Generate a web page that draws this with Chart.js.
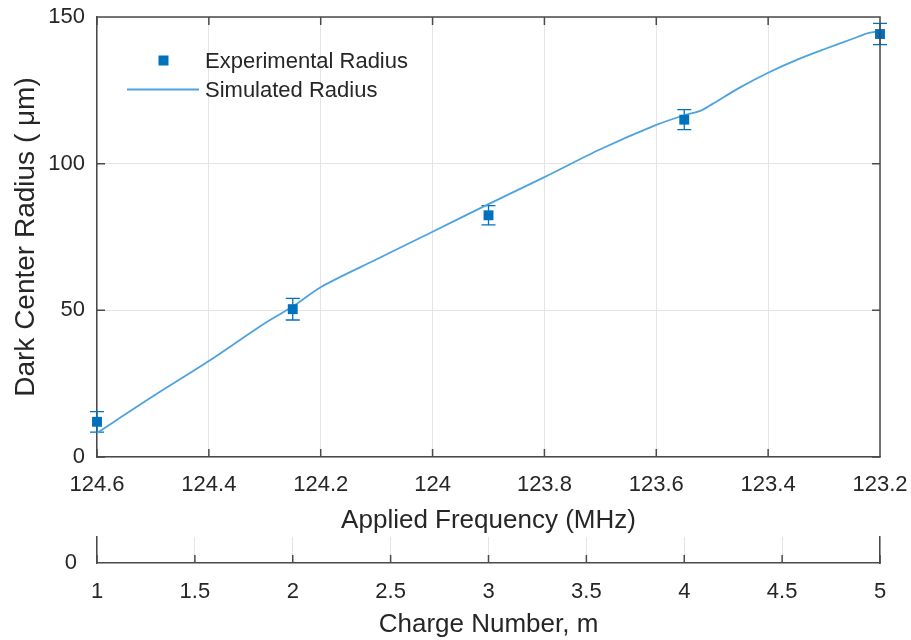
<!DOCTYPE html>
<html>
<head>
<meta charset="utf-8">
<title>Dark center radius vs applied frequency</title>
<script src="https://cdn.jsdelivr.net/npm/chart.js@4.4.1/dist/chart.umd.min.js"></script>
<style>
  html, body { margin: 0; padding: 0; background: #fff; }
  #wrap { position: relative; width: 911px; height: 640px; }
  #mainBox { position: absolute; left: 0; top: 0; width: 911px; height: 536px; }
  #chargeBox { position: absolute; left: 0; top: 536px; width: 911px; height: 104px; }
</style>
</head>
<body>
<div id="wrap">
  <div id="mainBox"><canvas id="radiusChart"></canvas></div>
  <div id="chargeBox"><canvas id="chargeAxis"></canvas></div>
</div>
<script>
// measured dark center radius (um) with error bars
const freqExp = [124.6, 124.25, 123.9, 123.55, 123.2];
const radiusExp = [12.0, 50.4, 82.4, 115.0, 144.2];
const radiusErr = [3.5, 3.7, 3.3, 3.4, 3.6];

// simulated radius curve
const freqSim = [124.6, 124.5, 124.4, 124.3, 124.25, 124.2, 124.1, 124.0, 123.9, 123.8,
                 123.7, 123.6, 123.55, 123.52, 123.5, 123.45, 123.4, 123.35, 123.3, 123.25,
                 123.22, 123.2];
const radiusSim = [8.2, 20.7, 32.7, 45.6, 51.3, 57.9, 67.4, 76.8, 86.2, 95.4,
                   104.9, 113.2, 116.5, 118.1, 120.3, 126.0, 131.0, 135.3, 139.0, 142.5,
                   144.6, 145.2];

// tick positions
const freqTicks = [124.6, 124.4, 124.2, 124.0, 123.8, 123.6, 123.4, 123.2];
const radiusTicks = [0, 50, 100, 150];
const chargeTicks = [1, 1.5, 2, 2.5, 3, 3.5, 4, 4.5, 5];

const expColor = '#0072BD';
const simColor = '#4DA3DF';
const axisColor = '#4a4a4a';
const gridColor = '#e4e4e4';
const textColor = '#262626';

Chart.defaults.font.family = 'Arial, "Liberation Sans", sans-serif';
Chart.defaults.color = textColor;

const tickFont = { size: 22 };
const titleFont = { size: 26 };

// keep the plot edges where they are set, labels may hang over
function noEdgePadding(axis) {
  axis.paddingLeft = 0;
  axis.paddingRight = 0;
  axis.paddingTop = 0;
  axis.paddingBottom = 0;
}

// ticks pointing into the plot, plus top/right box edges
const boxTicks = {
  id: 'boxTicks',
  afterDraw(chart, args, opts) {
    const { ctx, chartArea: a, scales } = chart;
    const len = 8;
    ctx.save();
    ctx.strokeStyle = axisColor;
    ctx.lineWidth = 1.5;
    ctx.beginPath();
    if (opts.box) {
      ctx.moveTo(a.left, a.top);
      ctx.lineTo(a.right, a.top);
      ctx.lineTo(a.right, a.bottom);
    }
    scales.x.ticks.forEach(t => {
      const px = scales.x.getPixelForValue(t.value);
      ctx.moveTo(px, a.bottom);
      ctx.lineTo(px, a.bottom - len);
      if (opts.box) {
        ctx.moveTo(px, a.top);
        ctx.lineTo(px, a.top + len);
      }
    });
    if (opts.box) {
      scales.y.ticks.forEach(t => {
        const py = scales.y.getPixelForValue(t.value);
        ctx.moveTo(a.left, py);
        ctx.lineTo(a.left + len, py);
        ctx.moveTo(a.right, py);
        ctx.lineTo(a.right - len, py);
      });
    }
    ctx.stroke();
    ctx.restore();
  }
};

const errorBars = {
  id: 'errorBars',
  beforeDatasetsDraw(chart) {
    const { ctx, scales: { x, y } } = chart;
    const cap = 7;
    ctx.save();
    ctx.strokeStyle = expColor;
    ctx.lineWidth = 1.3;
    freqExp.forEach((f, i) => {
      const px = x.getPixelForValue(f);
      const top = y.getPixelForValue(radiusExp[i] + radiusErr[i]);
      const bot = y.getPixelForValue(radiusExp[i] - radiusErr[i]);
      ctx.beginPath();
      ctx.moveTo(px, top); ctx.lineTo(px, bot);
      ctx.moveTo(px - cap, top); ctx.lineTo(px + cap, top);
      ctx.moveTo(px - cap, bot); ctx.lineTo(px + cap, bot);
      ctx.stroke();
    });
    ctx.restore();
  }
};

// legend drawn inside the plot area, upper left
const insideLegend = {
  id: 'insideLegend',
  afterDraw(chart) {
    const ctx = chart.ctx;
    const labels = chart.data.datasets.map(d => d.label);
    ctx.save();
    ctx.fillStyle = expColor;
    ctx.fillRect(158.5, 55.5, 10, 10);
    ctx.strokeStyle = simColor;
    ctx.lineWidth = 1.8;
    ctx.beginPath();
    ctx.moveTo(127, 89.5);
    ctx.lineTo(199, 89.5);
    ctx.stroke();
    ctx.fillStyle = textColor;
    ctx.font = '22px Arial, "Liberation Sans", sans-serif';
    ctx.textBaseline = 'middle';
    ctx.fillText(labels[0], 205, 62);
    ctx.fillText(labels[1], 205, 91);
    ctx.restore();
  }
};

new Chart(document.getElementById('radiusChart'), {
  type: 'scatter',
  data: {
    datasets: [{
      label: 'Experimental Radius',
      data: freqExp.map((f, i) => ({ x: f, y: radiusExp[i] })),
      pointStyle: 'rect',
      pointRadius: 7,
      pointHoverRadius: 7,
      backgroundColor: expColor,
      borderColor: expColor,
      borderWidth: 0,
      clip: false
    }, {
      label: 'Simulated Radius',
      data: freqSim.map((f, i) => ({ x: f, y: radiusSim[i] })),
      showLine: true,
      pointRadius: 0,
      borderColor: simColor,
      borderWidth: 1.8,
      tension: 0.3
    }]
  },
  options: {
    responsive: true,
    maintainAspectRatio: false,
    animation: false,
    layout: { padding: { top: 17, right: 31, left: 0, bottom: 0 } },
    plugins: {
      legend: { display: false },
      tooltip: { enabled: false },
      boxTicks: { box: true }
    },
    scales: {
      x: {
        type: 'linear',
        reverse: true,
        min: 123.2,
        max: 124.6,
        afterBuildTicks: axis => { axis.ticks = freqTicks.map(v => ({ value: v })); },
        afterFit: axis => { axis.height = 79; noEdgePadding(axis); },
        ticks: {
          font: tickFont,
          padding: 15,
          maxRotation: 0,
          autoSkip: false,
          callback: v => String(Number(v.toFixed(1)))
        },
        grid: { color: gridColor, drawTicks: false },
        border: { color: axisColor, width: 1.5 },
        title: { display: true, text: 'Applied Frequency (MHz)', font: titleFont, padding: { top: 0, bottom: 0 } }
      },
      y: {
        min: 0,
        max: 150,
        afterBuildTicks: axis => { axis.ticks = radiusTicks.map(v => ({ value: v })); },
        afterFit: axis => { axis.width = 97; noEdgePadding(axis); },
        ticks: { font: tickFont, padding: 12 },
        grid: { color: gridColor, drawTicks: false },
        border: { color: axisColor, width: 1.5 },
        title: { display: true, text: 'Dark Center Radius ( \u03bcm)', font: { size: 28 }, padding: { top: 9, bottom: 0 } }
      }
    }
  },
  plugins: [errorBars, boxTicks, insideLegend]
});

// secondary axis: charge number
new Chart(document.getElementById('chargeAxis'), {
  type: 'scatter',
  data: { datasets: [] },
  options: {
    responsive: true,
    maintainAspectRatio: false,
    animation: false,
    layout: { padding: { top: 1, right: 31, left: 0, bottom: 0 } },
    plugins: {
      legend: { display: false },
      tooltip: { enabled: false },
      boxTicks: { box: false }
    },
    scales: {
      x: {
        type: 'linear',
        min: 1,
        max: 5,
        afterBuildTicks: axis => { axis.ticks = chargeTicks.map(v => ({ value: v })); },
        afterFit: axis => { axis.height = 77; noEdgePadding(axis); },
        ticks: { font: tickFont, padding: 16, maxRotation: 0, autoSkip: false, callback: v => String(v) },
        grid: { color: gridColor, drawTicks: false },
        border: { color: axisColor, width: 1.5 },
        title: { display: true, text: 'Charge Number, m', font: titleFont, padding: { top: 0, bottom: 0 } }
      },
      y: {
        min: 0,
        max: 1,
        afterBuildTicks: axis => { axis.ticks = [{ value: 0 }]; },
        afterFit: axis => { axis.width = 97; noEdgePadding(axis); },
        ticks: { font: tickFont, padding: 12 },
        grid: { display: false },
        border: { color: axisColor, width: 1.5 }
      },
      y2: {
        position: 'right',
        min: 0,
        max: 1,
        afterFit: axis => { axis.width = 0; noEdgePadding(axis); },
        ticks: { display: false },
        grid: { display: false },
        border: { color: axisColor, width: 1.5 }
      }
    }
  },
  plugins: [boxTicks]
});
</script>
</body>
</html>
